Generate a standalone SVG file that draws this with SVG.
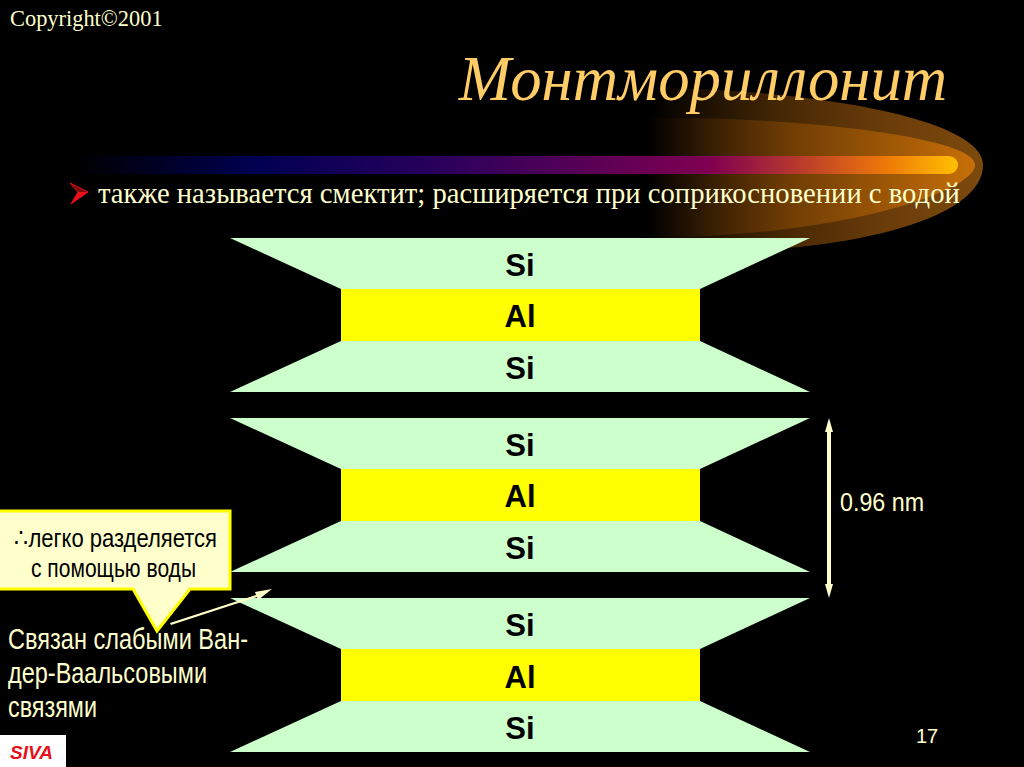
<svg xmlns="http://www.w3.org/2000/svg" width="1024" height="767" viewBox="0 0 1024 767">
<style>
.si{fill:#ccffcc}.al{fill:#ffff00}
.lb{font:700 31px "Liberation Sans",Arial,sans-serif;fill:#000;text-anchor:middle}
.cr{font-family:"Liberation Sans",Arial,sans-serif;fill:#ffffcc}
.ser{font-family:"Liberation Serif","Times New Roman",serif}
</style>
<defs>
<linearGradient id="g1" gradientUnits="userSpaceOnUse" x1="650" y1="0" x2="985" y2="0"><stop offset="0" stop-color="#000"/><stop offset="0.4" stop-color="#472804"/><stop offset="0.7" stop-color="#6a3c0a"/><stop offset="1" stop-color="#7c4a0e"/></linearGradient>
<linearGradient id="g2" gradientUnits="userSpaceOnUse" x1="648" y1="0" x2="978" y2="0"><stop offset="0" stop-color="#000"/><stop offset="0.22" stop-color="#3f2203"/><stop offset="0.42" stop-color="#6e3c04"/><stop offset="0.72" stop-color="#9c5606"/><stop offset="1" stop-color="#c87008"/></linearGradient>
<linearGradient id="bar" gradientUnits="userSpaceOnUse" x1="75" y1="0" x2="958" y2="0"><stop offset="0" stop-color="#000"/><stop offset="0.2" stop-color="#000050"/><stop offset="0.4" stop-color="#26005c"/><stop offset="0.72" stop-color="#800050"/><stop offset="0.82" stop-color="#b83a2c"/><stop offset="0.92" stop-color="#ee7a08"/><stop offset="1" stop-color="#ffc000"/></linearGradient>
<polygon id="top" points="230,238 810,238 700,289 341,289"/>
<polygon id="bot" points="341,341 700,341 810,392 230,392"/>
</defs>
<rect width="1024" height="767" fill="#000"/>
<g id="decor">
<path d="M648,88 C790,88 983,115 983,165 C983,215 870,255 648,254Z" fill="url(#g1)"/>
<path d="M648,118 C780,116 975,135 975,165 C975,190 850,236 648,238Z" fill="url(#g2)"/>
<rect x="75" y="156" width="883" height="18" rx="9" fill="url(#bar)"/>
</g>
<g id="title">
<text x="10" y="26" class="ser" font-size="22.400" fill="#ffffcc">Copyright©2001</text>
<text x="703" y="100" class="ser" font-size="62.800" font-style="italic" fill="#ffcc66" text-anchor="middle">Монтмориллонит</text>
</g>
<g id="bullet">
<path d="M70,183 L88,192 L78,192Z" fill="#7a0a10"/>
<path d="M88,192 L71,204 L78,192Z" fill="#e8101a"/>
<path d="M70,183 L88,192 L71,204 L78,192Z" fill="none" stroke="#e8101a" stroke-width="1"/>
<text x="98" y="203" class="ser" font-size="28.650" fill="#ffffcc">также называется смектит; расширяется при соприкосновении с водой</text>
</g>
<g id="stack1">
<use href="#top" class="si"/><rect x="341" y="289" width="359" height="52" class="al"/><use href="#bot" class="si"/>
<text x="520" y="276" class="lb">Si</text><text x="520" y="327" class="lb">Al</text><text x="520" y="379" class="lb">Si</text>
</g>
<g id="stack2" transform="translate(0,180)">
<use href="#top" class="si"/><rect x="341" y="289" width="359" height="52" class="al"/><use href="#bot" class="si"/>
<text x="520" y="276" class="lb">Si</text><text x="520" y="327" class="lb">Al</text><text x="520" y="379" class="lb">Si</text>
</g>
<g id="stack3" transform="translate(0,360)">
<use href="#top" class="si"/><rect x="341" y="289" width="359" height="52" class="al"/><use href="#bot" class="si"/>
<text x="520" y="276" class="lb">Si</text><text x="520" y="328" class="lb">Al</text><text x="520" y="379" class="lb">Si</text>
</g>
<g id="note">
<text x="8" y="649" class="cr" font-size="29" textLength="240" lengthAdjust="spacingAndGlyphs">Связан слабыми Ван-</text>
<text x="8" y="683" class="cr" font-size="29" textLength="199" lengthAdjust="spacingAndGlyphs">дер-Ваальсовыми</text>
<text x="8" y="717" class="cr" font-size="29" textLength="89" lengthAdjust="spacingAndGlyphs">связями</text>
</g>
<g id="connectors">
<path d="M829,418 L833,432 L831,432 L831,584 L833,584 L829,598 L825,584 L827,584 L827,432 L825,432Z" fill="#ffffcc"/>
<path d="M170,623 L256,595 L255,592 L272,589 L258,600 L257,597 L171,625Z" fill="#ffffcc"/>
</g>
<g id="dim"><text x="840" y="511" class="cr" font-size="26" textLength="84" lengthAdjust="spacingAndGlyphs">0.96 nm</text></g>
<g id="callout">
<path d="M-3,511 L230,511 L230,589 L190,589 L157,631 L133,589 L-3,589Z" fill="#ffffcc" stroke="#ffff00" stroke-width="3"/>
<text x="14" y="547" font-family="'Liberation Sans',Arial,sans-serif" font-size="26" fill="#000" textLength="203" lengthAdjust="spacingAndGlyphs">∴легко разделяется</text>
<text x="31" y="577" font-family="'Liberation Sans',Arial,sans-serif" font-size="26" fill="#000" textLength="165" lengthAdjust="spacingAndGlyphs">с помощью воды</text>
</g>
<g id="page"><text x="916" y="743" class="cr" font-size="20">17</text></g>
<g id="logo">
<rect x="0" y="735" width="66" height="32" fill="#fff"/>
<text x="10" y="759" font-family="'Liberation Sans',Arial,sans-serif" font-size="19" font-weight="700" font-style="italic" fill="#e8101a">SIVA</text>
</g>
</svg>
